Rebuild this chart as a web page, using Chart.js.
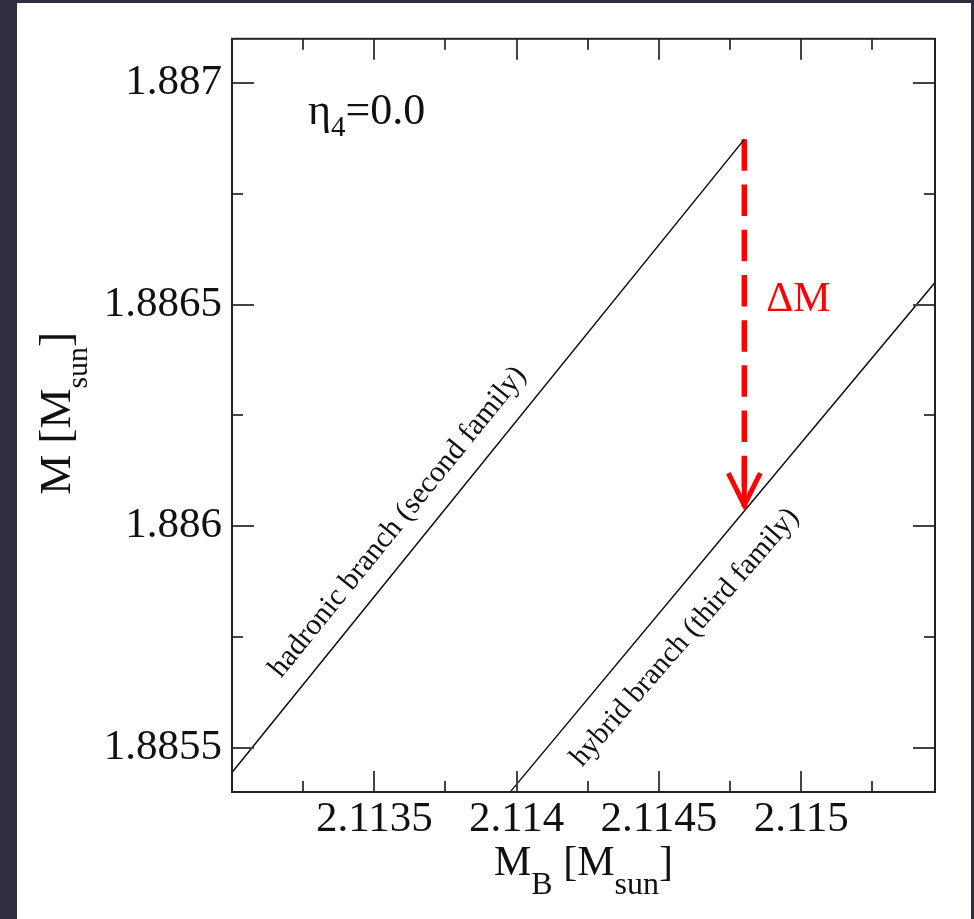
<!DOCTYPE html>
<html>
<head>
<meta charset="utf-8">
<script src="https://cdn.jsdelivr.net/npm/chart.js@4.4.0/dist/chart.umd.min.js"></script>
<style>
  html, body { margin: 0; padding: 0; background: #302e3f; }
  #panel { position: absolute; left: 17px; top: 3px; width: 954px; height: 916px; background: #fff; }
</style>
</head>
<body>
<div id="panel"><canvas id="massChart" width="954" height="916"></canvas></div>
<script>
// baryonic mass M_B and gravitational mass M, both in solar masses
const hadronicMB = [2.11300, 2.11370, 2.11480];
const hadronicM  = [1.885444, 1.886000, 1.886873];
const hybridMB = [2.11398, 2.11480, 2.11547];
const hybridM  = [1.885402, 1.886034, 1.886550];
// mass released at fixed M_B when the star jumps to the third family
const jumpMB = [2.11480, 2.11480];
const jumpM  = [1.886873, 1.886043];

const xMajorTicks = [2.1135, 2.114, 2.1145, 2.115];
const xMinorTicks = [2.11325, 2.11375, 2.11425, 2.11475, 2.11525];
const yMajorTicks = [1.8855, 1.886, 1.8865, 1.887];
const yMinorTicks = [1.88575, 1.88625, 1.88675];

const SERIF = '"Liberation Serif", "DejaVu Serif", serif';
const toPoints = (xs, ys) => xs.map((v, i) => ({ x: v, y: ys[i] }));
const fmt = v => String(Number(v.toFixed(4)));

// text with subscripts: parts = [[text, isSub], ...]
function richText(ctx, parts, x, y, size, subSize, subDrop, align) {
  let w = 0;
  parts.forEach(([t, sub]) => {
    ctx.font = (sub ? subSize : size) + 'px ' + SERIF;
    w += ctx.measureText(t).width;
  });
  let cx = align === 'center' ? x - w / 2 : x;
  ctx.textAlign = 'left';
  ctx.textBaseline = 'alphabetic';
  parts.forEach(([t, sub]) => {
    ctx.font = (sub ? subSize : size) + 'px ' + SERIF;
    ctx.fillText(t, cx, sub ? y + subDrop : y);
    cx += ctx.measureText(t).width;
  });
}

function rotatedLabel(ctx, text, x, y, deg, size) {
  ctx.save();
  ctx.font = size + 'px ' + SERIF;
  ctx.translate(x, y);
  ctx.rotate(-deg * Math.PI / 180);
  ctx.fillText(text, 0, 0);
  ctx.restore();
}

const overlay = {
  id: 'overlay',
  afterDraw(chart) {
    const { ctx, chartArea: a, scales: { x, y } } = chart;
    ctx.save();

    // inward ticks on all four sides
    ctx.strokeStyle = '#444';
    ctx.lineWidth = 2;
    const xTicks = (vals, len) => vals.forEach(v => {
      const px = Math.round(x.getPixelForValue(v));
      ctx.beginPath();
      ctx.moveTo(px, a.bottom); ctx.lineTo(px, a.bottom - len);
      ctx.moveTo(px, a.top); ctx.lineTo(px, a.top + len);
      ctx.stroke();
    });
    const yTicks = (vals, len) => vals.forEach(v => {
      const py = Math.round(y.getPixelForValue(v));
      ctx.beginPath();
      ctx.moveTo(a.left, py); ctx.lineTo(a.left + len, py);
      ctx.moveTo(a.right, py); ctx.lineTo(a.right - len, py);
      ctx.stroke();
    });
    xTicks(xMajorTicks, 21); xTicks(xMinorTicks, 11);
    yTicks(yMajorTicks, 22); yTicks(yMinorTicks, 11);

    // frame
    ctx.strokeStyle = '#222';
    ctx.strokeRect(a.left, a.top, a.right - a.left, a.bottom - a.top);

    // arrow head of the jump
    const tx = x.getPixelForValue(jumpMB[1]);
    const ty = y.getPixelForValue(jumpM[1]);
    ctx.strokeStyle = '#ff0000';
    ctx.lineWidth = 5;
    ctx.lineJoin = 'miter';
    ctx.beginPath();
    ctx.moveTo(tx, ty - 46); ctx.lineTo(tx, ty - 4);
    ctx.stroke();
    ctx.beginPath();
    ctx.moveTo(tx - 16, ty - 34); ctx.lineTo(tx, ty - 2); ctx.lineTo(tx + 16, ty - 34);
    ctx.stroke();

    ctx.fillStyle = '#ff0000';
    ctx.font = '42px ' + SERIF;
    ctx.textAlign = 'left';
    ctx.textBaseline = 'alphabetic';
    ctx.fillText('\u0394M', tx + 22, a.top + 272);

    ctx.fillStyle = '#111';
    richText(ctx, [['\u03b7', false], ['4', true], ['=0.0', false]], a.left + 76, a.top + 85, 44, 29, 12, 'left');

    // branch labels along the curves
    rotatedLabel(ctx, 'hadronic branch (second family)', a.left + 49, a.top + 640, 51, 30);
    rotatedLabel(ctx, 'hybrid branch (third family)', a.left + 350, a.top + 729, 49, 29.5);

    // axis titles
    richText(ctx, [['M', false], ['B', true], [' [M', false], ['sun', true], [']', false]],
      (a.left + a.right) / 2, 872, 42, 32, 19, 'center');
    ctx.save();
    ctx.translate(53, (a.top + a.bottom) / 2 - 2);
    ctx.rotate(-Math.PI / 2);
    richText(ctx, [['M [M', false], ['sun', true], [']', false]], 0, 0, 45, 30, 17, 'center');
    ctx.restore();

    ctx.restore();
  }
};

const tickFont = { family: SERIF, size: 43 };

new Chart(document.getElementById('massChart'), {
  type: 'scatter',
  data: {
    datasets: [
      { data: toPoints(hadronicMB, hadronicM), showLine: true, borderColor: '#111', borderWidth: 1.5, pointRadius: 0 },
      { data: toPoints(hybridMB, hybridM), showLine: true, borderColor: '#111', borderWidth: 1.5, pointRadius: 0 },
      { data: toPoints(jumpMB, jumpM), showLine: true, borderColor: '#ff0000', borderWidth: 5.5,
        borderDash: [31.5, 13.7], borderCapStyle: 'butt', pointRadius: 0 }
    ]
  },
  options: {
    responsive: false,
    animation: false,
    layout: { padding: { left: 0, right: 36, top: 34, bottom: 0 } },
    plugins: { legend: { display: false }, tooltip: { enabled: false } },
    scales: {
      x: {
        type: 'linear', min: 2.113, max: 2.11547,
        afterBuildTicks: s => { s.ticks = xMajorTicks.map(v => ({ value: v })); },
        afterFit: s => { s.height = 127; },
        grid: { display: false, drawTicks: false },
        border: { display: false },
        ticks: { padding: 2, font: tickFont, color: '#111', maxRotation: 0, autoSkip: false, callback: fmt }
      },
      y: {
        type: 'linear', min: 1.8854, max: 1.8871,
        afterBuildTicks: s => { s.ticks = yMajorTicks.map(v => ({ value: v })); },
        afterFit: s => { s.width = 215; },
        grid: { display: false, drawTicks: false },
        border: { display: false },
        ticks: { padding: 10, font: tickFont, color: '#111', autoSkip: false, callback: fmt }
      }
    }
  },
  plugins: [overlay]
});
</script>
</body>
</html>
